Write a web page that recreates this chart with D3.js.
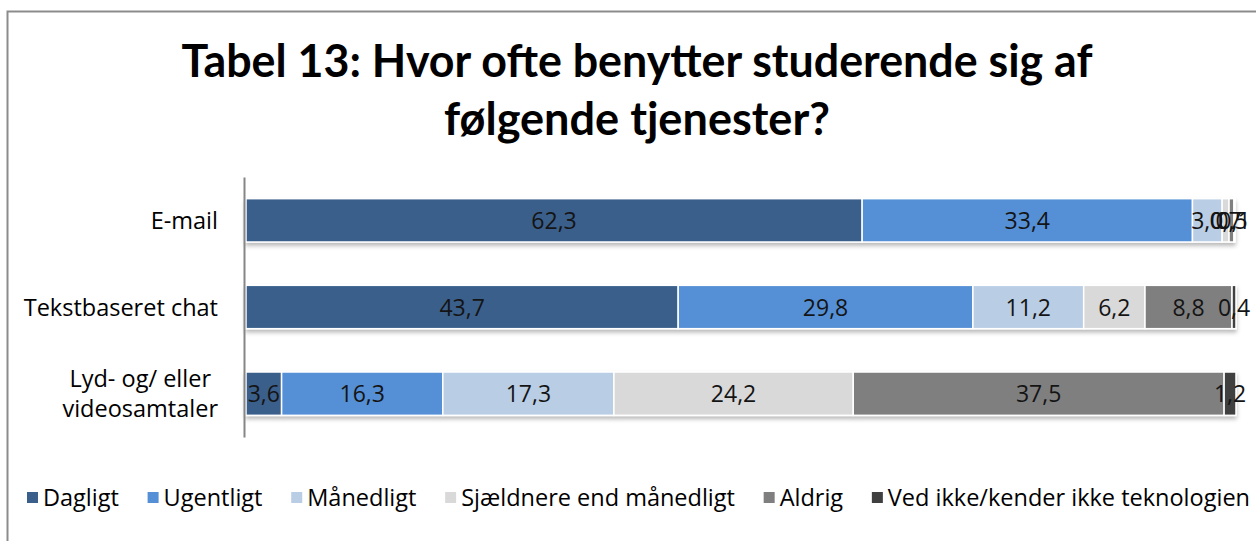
<!DOCTYPE html>
<html><head><meta charset="utf-8">
<script src="https://cdn.jsdelivr.net/npm/d3@7"></script>
<style>html,body{margin:0;padding:0;background:#fff;}svg{display:block;font-family:"Open Sans",Lato,sans-serif;}</style>
</head><body>
<svg id="chart" width="1256" height="541"></svg>
<script>
const titleLines = ["Tabel 13: Hvor ofte benytter studerende sig af", "følgende tjenester?"];
const categories = ["E-mail", "Tekstbaseret chat", "Lyd- og/ eller videosamtaler"];
const categoryLines = [["E-mail"], ["Tekstbaseret chat"], ["Lyd- og/ eller", "videosamtaler"]];
const seriesNames = ["Dagligt", "Ugentligt", "Månedligt", "Sjældnere end månedligt", "Aldrig", "Ved ikke/kender ikke teknologien"];
const seriesColors = ["#3a5f8b", "#5590d6", "#b9cde5", "#d9d9d9", "#7f7f7f", "#404040"];
const dagligt     = [62.3, 43.7, 3.6];
const ugentligt   = [33.4, 29.8, 16.3];
const maanedligt  = [3.0, 11.2, 17.3];
const sjaeldnere  = [0.7, 6.2, 24.2];
const aldrig      = [0.5, 8.8, 37.5];
const vedIkke     = [0.1, 0.4, 1.2];
const seriesValues = [dagligt, ugentligt, maanedligt, sjaeldnere, aldrig, vedIkke];

const svg = d3.select("#chart");
const W = 1256, H = 541;
const fmt = v => d3.format(".1f")(v).replace(".", ",");

// outer frame
svg.append("rect").attr("x", 7.5).attr("y", 11.5).attr("width", W + 20).attr("height", H + 20)
  .attr("fill", "#fff").attr("stroke", "#8c8c8c").attr("stroke-width", 2);

const defs = svg.append("defs");
const f = defs.append("filter").attr("id", "sh").attr("x", "-5%").attr("y", "-20%").attr("width", "110%").attr("height", "160%");
f.append("feDropShadow").attr("dx", 0).attr("dy", 3).attr("stdDeviation", 2).attr("flood-color", "#000").attr("flood-opacity", 0.28);

// title
const titleTargets = [911, 386];
titleLines.forEach((t, i) => {
  const tx = svg.append("text").attr("x", 637).attr("y", 77 + i * 58)
    .attr("text-anchor", "middle").attr("font-family", "Lato, 'Open Sans', sans-serif")
    .attr("font-size", 45).attr("font-weight", 700).attr("fill", "#000").text(t);
  tx.attr("textLength", titleTargets[i]).attr("lengthAdjust", "spacingAndGlyphs");
});

const x = d3.scaleLinear().domain([0, 100]).range([246, 1235]);
const y = d3.scaleBand().domain(categories).range([177, 437]).paddingInner(0.5).paddingOuter(0.25);

// stacked data
const rows = categories.map((c, i) => {
  const o = { cat: c };
  seriesNames.forEach((s, j) => o[s] = seriesValues[j][i]);
  return o;
});
const stacked = d3.stack().keys(seriesNames)(rows);

const g = svg.append("g");
const shadowG = g.append("g").attr("filter", "url(#sh)");
stacked.forEach((layer, j) => {
  shadowG.append("g").selectAll("rect").data(layer).join("rect")
    .attr("x", d => x(d[0])).attr("y", d => y(d.data.cat))
    .attr("width", d => Math.max(0, x(d[1]) - x(d[0]))).attr("height", y.bandwidth())
    .attr("fill", seriesColors[j]).attr("stroke", "#fff").attr("stroke-width", 1.5);
});
stacked.forEach((layer, j) => {
  g.append("g").selectAll("text").data(layer).join("text")
    .attr("x", d => (x(d[0]) + x(d[1])) / 2).attr("y", d => y(d.data.cat) + y.bandwidth() / 2 + 8.5)
    .attr("text-anchor", "middle").attr("font-size", 23).attr("fill", "#141414")
    .text(d => fmt(d[1] - d[0]));
});

// axis
const axis = svg.append("g").attr("transform", "translate(244,0)")
  .call(d3.axisLeft(y).tickSize(0).tickFormat(""));
axis.select(".domain").attr("stroke", "#868686").attr("stroke-width", 2);

// category labels
categories.forEach((c, i) => {
  const lines = categoryLines[i];
  const cy = y(c) + y.bandwidth() / 2;
  const t = svg.append("text").attr("font-size", 23.5).attr("fill", "#000");
  const lh = 30;
  lines.forEach((ln, k) => {
    t.append("tspan").attr("y", cy + 8.5 + (k - (lines.length - 1) / 2) * lh).text(ln);
  });
  if (lines.length === 1) {
    t.attr("text-anchor", "end").selectAll("tspan").attr("x", 218);
  } else {
    const widths = [];
    t.selectAll("tspan").each(function () { widths.push(this.getComputedTextLength()); });
    const mw = d3.max(widths);
    t.attr("text-anchor", "middle").selectAll("tspan").attr("x", 218 - mw / 2);
  }
});

// legend
const leg = svg.append("g");
let lx = 27;
const legTarget = 1250 - 27;
const items = [];
seriesNames.forEach((s, j) => {
  const it = leg.append("g");
  it.append("rect").attr("width", 11).attr("height", 11).attr("y", 492).attr("fill", seriesColors[j]);
  const tx = it.append("text").attr("x", 16).attr("y", 505.5).attr("font-size", 23.5).attr("fill", "#000").text(s);
  items.push({ it, w: 16 + tx.node().getComputedTextLength() });
});
const totalW = d3.sum(items, d => d.w);
const gap = (legTarget - totalW) / (items.length - 1);
items.forEach(d => { d.it.attr("transform", `translate(${lx},0)`); lx += d.w + gap; });
</script>
</body></html>
